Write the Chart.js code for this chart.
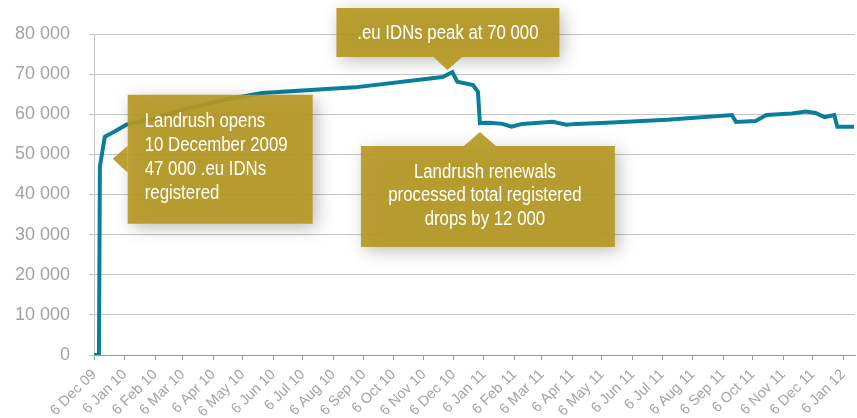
<!DOCTYPE html>
<html>
<head>
<meta charset="utf-8">
<script src="https://cdn.jsdelivr.net/npm/chart.js@4"></script>
<style>
  html, body { margin: 0; padding: 0; background: #fff; }
  #wrap { width: 857px; height: 418px; }
</style>
</head>
<body>
<div id="wrap"><canvas id="idnChart" width="857" height="418"></canvas></div>
<script>
// registered .eu IDNs
const dates = ['2009-12-06','2009-12-11','2009-12-12','2009-12-13','2009-12-17','2009-12-26','2010-01-08','2010-02-07','2010-03-13','2010-04-15',
  '2010-05-26','2010-08-28','2010-11-25','2010-12-05','2010-12-10','2010-12-26','2010-12-31','2011-01-02','2011-01-12','2011-01-25',
  '2011-02-03','2011-02-14','2011-03-17','2011-03-31','2011-04-10','2011-05-11','2011-07-11','2011-09-15','2011-09-19','2011-10-09',
  '2011-10-20','2011-11-15','2011-11-29','2011-12-09','2011-12-18','2011-12-28','2011-12-31','2012-01-17'];
const registered = [0, 0, 47000, 48500, 54400, 55600, 57400, 59100, 61600, 63500,
  65300, 66700, 69300, 70500, 68100, 67300, 65600, 57800, 57900, 57600,
  56900, 57600, 58100, 57400, 57600, 57900, 58600, 59800, 58100, 58300,
  59800, 60200, 60700, 60300, 59300, 59800, 56900, 56900];

const tickLabels = ['6 Dec 09','6 Jan 10','6 Feb 10','6 Mar 10','6 Apr 10','6 May 10','6 Jun 10','6 Jul 10','6 Aug 10','6 Sep 10','6 Oct 10','6 Nov 10','6 Dec 10',
  '6 Jan 11','6 Feb 11','6 Mar 11','6 Apr 11','6 May 11','6 Jun 11','6 Jul 11','6 Aug 11','6 Sep 11','6 Oct 11','6 Nov 11','6 Dec 11','6 Jan 12'];

// callouts: where the pointer tip sits (date, value)
const notes = [
  { date: '2009-12-25', value: 48900, side: 'left', lines: ['Landrush opens', '10 December 2009', '47 000 .eu IDNs', 'registered'] },
  { date: '2010-11-30', value: 71000, side: 'bottom', lines: ['.eu IDNs peak at 70 000'] },
  { date: '2011-01-02', value: 55600, side: 'top', lines: ['Landrush renewals', 'processed total registered', 'drops by 12 000'] }
];

const months = ['Jan','Feb','Mar','Apr','May','Jun','Jul','Aug','Sep','Oct','Nov','Dec'];
const start = Date.UTC(2009, 11, 6);
function dayOf(iso) {
  const p = iso.split('-');
  return (Date.UTC(+p[0], +p[1] - 1, +p[2]) - start) / 86400000;
}
function dayOfLabel(lbl) {
  const p = lbl.split(' ');
  return (Date.UTC(2000 + +p[2], months.indexOf(p[1]), +p[0]) - start) / 86400000;
}
const tickDays = tickLabels.map(dayOfLabel);
const points = dates.map((d, i) => ({ x: dayOf(d), y: registered[i] }));

const gold = 'rgba(181,153,35,0.92)';
const noteFont = '20px "Liberation Sans", Arial, sans-serif';

// condensed look: squeeze text horizontally
function narrowText(ctx, text, x, y, align) {
  ctx.save();
  ctx.translate(x, y);
  ctx.scale(0.84, 1);
  ctx.textAlign = align;
  ctx.fillText(text, 0, 0);
  ctx.restore();
}

const calloutPlugin = {
  id: 'callouts',
  afterDatasetsDraw(chart) {
    const ctx = chart.ctx;
    const xs = chart.scales.x, ys = chart.scales.y;
    notes.forEach((n) => {
      const tx = xs.getPixelForValue(dayOf(n.date));
      const ty = ys.getPixelForValue(n.value);
      let bx, by, bw, bh, tri;
      if (n.side === 'left') {
        bx = tx + 15; by = ty - 64; bw = 185; bh = 129;
        tri = [[tx, ty], [bx, ty - 13], [bx, ty + 14]];
      } else if (n.side === 'bottom') {
        bx = tx - 111; by = ty - 62; bw = 223; bh = 49;
        tri = [[tx, ty], [tx - 14, by + bh], [tx + 15, by + bh]];
      } else {
        bx = tx - 119; by = ty + 14; bw = 254; bh = 101;
        tri = [[tx, ty], [tx - 16, by], [tx + 16, by]];
      }
      ctx.save();
      ctx.shadowColor = 'rgba(0,0,0,0.28)';
      ctx.shadowBlur = 16;
      ctx.shadowOffsetX = 4;
      ctx.shadowOffsetY = 4;
      ctx.fillStyle = gold;
      ctx.beginPath();
      ctx.rect(bx, by, bw, bh);
      ctx.fill();
      ctx.restore();

      ctx.save();
      ctx.fillStyle = gold;
      ctx.beginPath();
      ctx.moveTo(tri[0][0], tri[0][1]);
      ctx.lineTo(tri[1][0], tri[1][1]);
      ctx.lineTo(tri[2][0], tri[2][1]);
      ctx.closePath();
      ctx.fill();

      ctx.fillStyle = '#ffffff';
      ctx.font = noteFont;
      ctx.textBaseline = 'alphabetic';
      if (n.side === 'left') {
        n.lines.forEach((l, i) => narrowText(ctx, l, bx + 17, by + 32 + i * 24, 'left'));
      } else if (n.side === 'bottom') {
        narrowText(ctx, n.lines[0], bx + bw / 2, by + 31, 'center');
      } else {
        n.lines.forEach((l, i) => narrowText(ctx, l, bx + bw / 2 - 3, by + 32 + i * 23.5, 'center'));
      }
      ctx.restore();
    });
  }
};

new Chart(document.getElementById('idnChart'), {
  type: 'line',
  data: {
    datasets: [{
      data: points,
      borderColor: '#0a7f9b',
      borderWidth: 4,
      pointRadius: 0,
      tension: 0,
      fill: false
    }]
  },
  options: {
    responsive: false,
    animation: false,
    layout: { padding: { top: 34, right: 2, left: 0, bottom: 0 } },
    plugins: { legend: { display: false }, tooltip: { enabled: false } },
    scales: {
      x: {
        type: 'linear',
        min: 0,
        max: 773,
        afterBuildTicks: (scale) => { scale.ticks = tickDays.map((v) => ({ value: v })); },
        afterFit: (scale) => {
          scale.height = 63;
          scale.paddingLeft = 0;
          scale.paddingRight = 0;
        },
        grid: { drawOnChartArea: false, drawTicks: true, tickLength: 5, color: '#9a9a9a' },
        border: { color: '#9a9a9a', width: 1 },
        ticks: {
          autoSkip: false,
          minRotation: 45,
          maxRotation: 45,
          padding: 6,
          color: '#a3a3a3',
          font: { family: '"Liberation Sans", Arial, sans-serif', size: 14.5 },
          callback: (v, i) => tickLabels[i]
        }
      },
      y: {
        min: 0,
        max: 80000,
        afterFit: (scale) => { scale.width = 94; },
        grid: { color: '#c4c4c4', lineWidth: 1, tickLength: 5 },
        border: { color: '#c4c4c4', width: 1 },
        ticks: {
          stepSize: 10000,
          padding: 19,
          color: '#a3a3a3',
          font: { family: '"Liberation Sans", Arial, sans-serif', size: 18 },
          callback: (v) => String(v).replace(/\B(?=(\d{3})+(?!\d))/g, ' ')
        }
      }
    }
  },
  plugins: [calloutPlugin]
});
</script>
</body>
</html>
